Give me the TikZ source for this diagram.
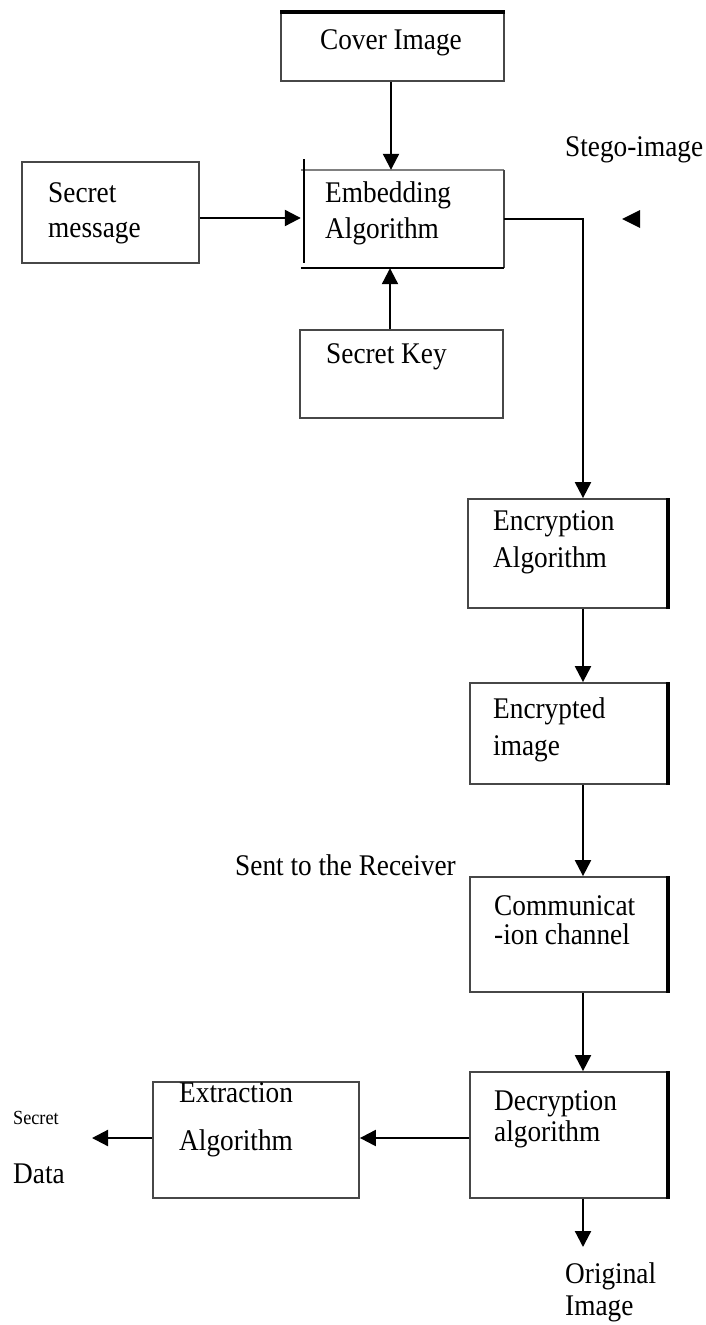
\documentclass[tikz,border=0pt]{standalone}
\usepackage{fontspec}
\setmainfont[FakeStretch=0.91]{Liberation Serif}
\usetikzlibrary{arrows.meta}
\begin{document}
\begin{tikzpicture}[x=1pt,y=-1pt,
  box/.style={draw=black!72, line width=1.8pt, inner sep=0pt},
  frame/.style={draw=none, inner sep=0pt},
  txt/.style={inner sep=0pt, anchor=base west, font=\fontsize{30}{34}\selectfont},
  smalltxt/.style={inner sep=0pt, anchor=base west, font=\fontsize{20}{23}\selectfont},
  arr/.style={line width=2.2pt, -{Triangle[length=16pt,width=16pt]}},
  heavy/.style={line width=3.6pt, black},
  edge/.style={line width=1.8pt, draw=black!72}]
\useasboundingbox (0,0) rectangle (705,1325);

% ---- boxes ----
\node[box,  minimum width=223pt, minimum height=68pt]  (cover) at (392.5,47)   {};
\node[frame,minimum width=203pt, minimum height=98pt]  (embed) at (402.5,219)  {};
\node[box,  minimum width=177pt, minimum height=101pt] (msg)   at (110.5,212.5){};
\node[box,  minimum width=203pt, minimum height=88pt]  (key)   at (401.5,374)  {};
\node[box,  minimum width=199pt, minimum height=109pt] (enc)   at (567.5,553.5){};
\node[box,  minimum width=197pt, minimum height=101pt] (encd)  at (568.5,733.5){};
\node[box,  minimum width=197pt, minimum height=115pt] (comm)  at (568.5,934.5){};
\node[box,  minimum width=197pt, minimum height=126pt] (dec)   at (568.5,1135) {};
\node[box,  minimum width=206pt, minimum height=116pt] (ext)   at (256,1140)   {};

% embedding box: sides drawn one by one, the left side set apart
\draw[line width=2.6pt, draw=black!50] (embed.north west) -- (embed.north east);
\draw[edge] (embed.north east) -- (embed.south east);
\draw[line width=1.8pt, black] (embed.south west) -- (embed.south east);
\coordinate (embLtop) at (304,159);
\coordinate (embLbot) at (304,263);
\draw[line width=1.5pt, black] (embLtop) -- (embLbot);

% heavy edges
\draw[heavy] (cover.north west) -- (cover.north east);
\foreach \b in {enc,encd,comm,dec}
  \draw[heavy] (\b.north east) -- (\b.south east);

% ---- texts ----
\node[txt, anchor=base] (tcover) at (391,49) {Cover Image};
\node[txt] (tstego) at (565,156) {Stego-image};
\node[txt] (tmsg1) at (48,202) {Secret};
\node[txt] (tmsg2) at (48,237) {message};
\node[txt] (temb1) at (325,202) {Embedding};
\node[txt] (temb2) at (325,238) {Algorithm};
\node[txt] (tkey)  at (326,363) {Secret Key};
\node[txt] (tenc1) at (493,530) {Encryption};
\node[txt] (tenc2) at (493,567) {Algorithm};
\node[txt] (tencd1) at (493,718) {Encrypted};
\node[txt] (tencd2) at (493,755) {image};
\node[txt] (tsent) at (235,875) {Sent to the Receiver};
\node[txt] (tcomm1) at (494,915) {Communicat};
\node[txt] (tcomm2) at (494,944) {-ion channel};
\node[txt] (tdec1) at (494,1110) {Decryption};
\node[txt] (tdec2) at (494,1141) {algorithm};
\node[txt] (text1) at (179,1102) {Extraction};
\node[txt] (text2) at (179,1150) {Algorithm};
\node[smalltxt] (tsecret) at (13,1124) {Secret};
\node[txt] (tdata) at (13,1183) {Data};
\node[txt] (torig1) at (565,1283) {Original};
\node[txt] (torig2) at (565,1315) {Image};

% ---- connectors ----
\coordinate (col) at (583,219);
\coordinate (dataend) at (92,1138);
\coordinate (origend) at (583,1247);

\draw[arr] ([xshift=-1.5pt]cover.south) -- ([xshift=-1.5pt]cover.south |- embed.north);
\draw[arr] ([yshift=-5.5pt]msg.east) -- ([yshift=-5.5pt]msg.east -| embed.west);
\draw[arr] ([xshift=-11.5pt]key.north) -- ([xshift=-11.5pt]key.north |- embed.south);
\draw[arr] (embed.east) -- (col) -- (col |- enc.north);
\draw[arr] (enc.south -| col) -- (encd.north -| col);
\draw[arr] (encd.south -| col) -- (comm.north -| col);
\draw[arr] (comm.south -| col) -- (dec.north -| col);
\draw[arr] ([yshift=-3pt]dec.west) -- ([yshift=-3pt]dec.west -| ext.east);
\draw[arr] ([yshift=2pt]ext.west) -- (dataend);
\draw[arr] (dec.south -| col) -- (origend);

% lone arrowhead beside the stego-image label
\fill (622,219) -- (640,210) -- (640,228) -- cycle;
\end{tikzpicture}
\end{document}
